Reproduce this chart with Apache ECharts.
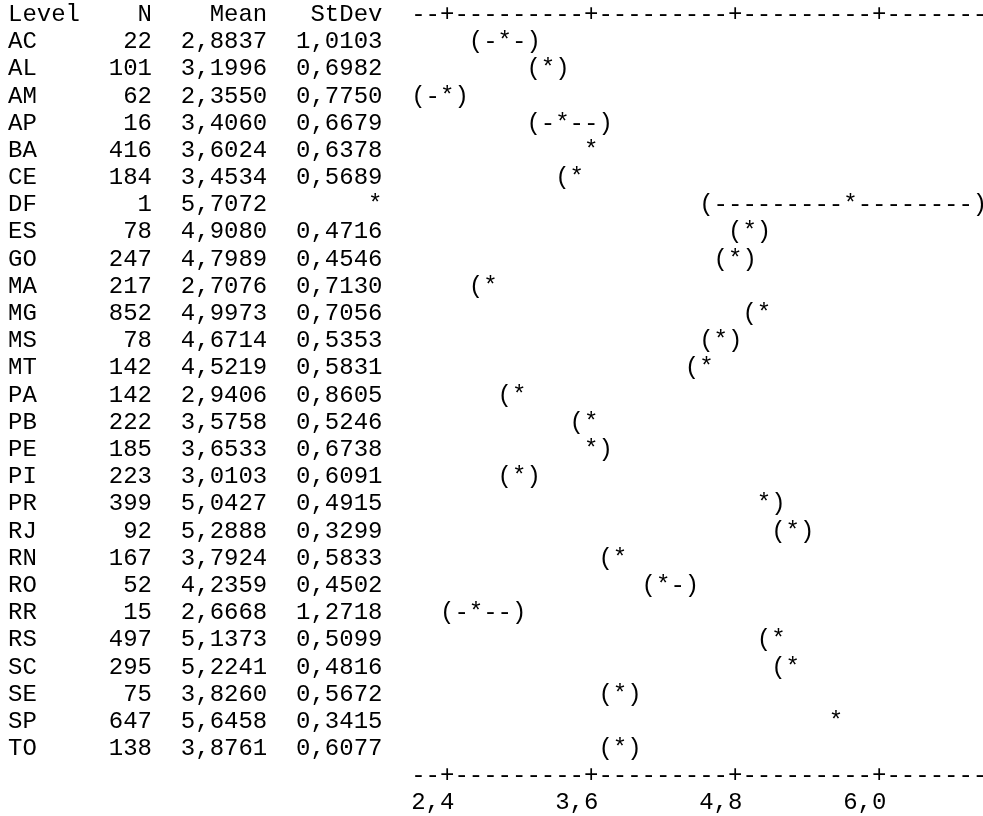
<!DOCTYPE html>
<html>
<head>
<meta charset="utf-8">
<script src="https://cdn.jsdelivr.net/npm/echarts@6/dist/echarts.min.js"></script>
<style>
  html, body { margin: 0; padding: 0; background: #fff; }
  #chart { width: 983px; height: 816px; }
</style>
</head>
<body>
<div id="chart"></div>
<script>
// table values
const levels = ['AC', 'AL', 'AM', 'AP', 'BA', 'CE', 'DF', 'ES', 'GO', 'MA', 'MG', 'MS', 'MT', 'PA',
  'PB', 'PE', 'PI', 'PR', 'RJ', 'RN', 'RO', 'RR', 'RS', 'SC', 'SE', 'SP', 'TO']
const counts = [22, 101, 62, 16, 416, 184, 1, 78, 247, 217, 852, 78, 142, 142,
  222, 185, 223, 399, 92, 167, 52, 15, 497, 295, 75, 647, 138]
const means = [2.8837, 3.1996, 2.3550, 3.4060, 3.6024, 3.4534, 5.7072, 4.9080, 4.7989, 2.7076, 4.9973, 4.6714, 4.5219, 2.9406,
  3.5758, 3.6533, 3.0103, 5.0427, 5.2888, 3.7924, 4.2359, 2.6668, 5.1373, 5.2241, 3.8260, 5.6458, 3.8761]
const stdevs = [1.0103, 0.6982, 0.7750, 0.6679, 0.6378, 0.5689, null, 0.4716, 0.4546, 0.7130, 0.7056, 0.5353, 0.5831, 0.8605,
  0.5246, 0.6738, 0.6091, 0.4915, 0.3299, 0.5833, 0.4502, 1.2718, 0.5099, 0.4816, 0.5672, 0.3415, 0.6077]

// 95% CI ends
const ciLower = [2.644, 3.087, 2.212, 3.124, 3.547, 3.371, 4.579, 4.781, 4.727, 2.631, 4.959, 4.544, 4.427, 2.846,
  3.500, 3.570, 2.934, 4.982, 5.171, 3.705, 4.079, 2.375, 5.087, 5.158, 3.695, 5.602, 3.776]
const ciUpper = [3.124, 3.312, 2.498, 3.688, 3.658, 3.536, 6.835, 5.035, 4.871, 2.784, 5.036, 4.798, 4.617, 3.036,
  3.652, 3.736, 3.086, 5.104, 5.407, 3.880, 4.392, 2.959, 5.187, 5.290, 3.957, 5.690, 3.972]

const tickValues = [2.4, 3.6, 4.8, 6.0]
const tickLabels = ['2,4', '3,6', '4,8', '6,0']

// monospace layout (Courier-like, 24px)
const FONT_SIZE = 24
const FONT_FAMILY = '"Liberation Mono", "Courier New", monospace'
const CW = 14.4      // char width
const LH = 27.19     // line pitch
const MID = 6.4      // baseline -> middle of text
const LEFT = 8
const PLOT_COL = 28  // column where the interval plot starts
const gridLeft = LEFT + PLOT_COL * CW
const gridTop = 21 - MID + LH / 2
const gridHeight = levels.length * LH

const fmt = v => v == null ? '*' : v.toFixed(4).replace('.', ',')
const rowText = (a, b, c, d) => a.padEnd(6) + b.padStart(4) + '  ' + c.padStart(6) + '  ' + d.padStart(6)
const header = rowText('Level', 'N', 'Mean', 'StDev')

function txt(text, x, y, align) {
  return {
    type: 'text',
    style: { text, x, y, align: align || 'left', verticalAlign: 'middle',
      fontSize: FONT_SIZE, fontFamily: FONT_FAMILY, fill: '#000' }
  }
}

function renderInterval(params, api) {
  const cs = params.coordSys
  const row = api.value(1)
  const colOf = v => Math.floor((api.coord([v, row])[0] - cs.x) / CW)
  const y = api.coord([api.value(0), row])[1]
  const m = colOf(api.value(0))
  const lo = colOf(api.value(2))
  const hi = colOf(api.value(3))
  let s = ''
  for (let c = lo; c <= hi; c++) {
    s += c === m ? '*' : c === lo ? '(' : c === hi ? ')' : '-'
  }
  return { type: 'group', children: [txt(s, cs.x + lo * CW, y)] }
}

function renderRuler(params, api) {
  const cs = params.coordSys
  const i = params.dataIndex
  const band = cs.height / levels.length
  const colOf = v => Math.floor((api.coord([v, 0])[0] - cs.x) / CW)
  const k = colOf(api.value(0))
  const prevK = i === 0 ? -1 : colOf(tickValues[i - 1])
  let seg = '-'.repeat(k - prevK - 1) + '+'
  if (i === tickValues.length - 1) seg += '-'.repeat(Math.ceil(cs.width / CW) - k - 1)
  const yTop = api.coord([0, 0])[1] - band
  const yBot = api.coord([0, levels.length - 1])[1] + band
  const x0 = cs.x + (prevK + 1) * CW
  return {
    type: 'group',
    children: [
      txt(seg, x0, yTop),
      txt(seg, x0, yBot),
      txt(tickLabels[i], cs.x + (k + 1) * CW, yBot + band, 'right')
    ]
  }
}

const chart = echarts.init(document.getElementById('chart'))
chart.setOption({
  animation: false,
  backgroundColor: '#fff',
  grid: { left: gridLeft, right: 0, top: gridTop, height: gridHeight },
  xAxis: {
    type: 'value',
    min: 2.1,
    max: 2.1 + (983 - gridLeft) / 120,
    show: false
  },
  yAxis: {
    type: 'category',
    inverse: true,
    data: levels,
    axisLine: { show: false },
    axisTick: { show: false },
    splitLine: { show: false },
    axisLabel: {
      interval: 0,
      align: 'left',
      margin: gridLeft - LEFT,
      fontSize: FONT_SIZE,
      fontFamily: FONT_FAMILY,
      color: '#000',
      formatter: (v, i) => rowText(levels[i], String(counts[i]), fmt(means[i]), fmt(stdevs[i]))
    }
  },
  graphic: [
    { type: 'text', x: LEFT, y: gridTop - LH / 2, silent: true,
      style: { text: header, verticalAlign: 'middle', fontSize: FONT_SIZE, fontFamily: FONT_FAMILY, fill: '#000' } }
  ],
  series: [
    {
      type: 'custom',
      name: 'CI',
      renderItem: renderInterval,
      data: levels.map((_, i) => [means[i], i, ciLower[i], ciUpper[i]])
    },
    {
      type: 'custom',
      name: 'ruler',
      renderItem: renderRuler,
      data: tickValues.map(v => [v, 0])
    }
  ]
})
</script>
</body>
</html>
